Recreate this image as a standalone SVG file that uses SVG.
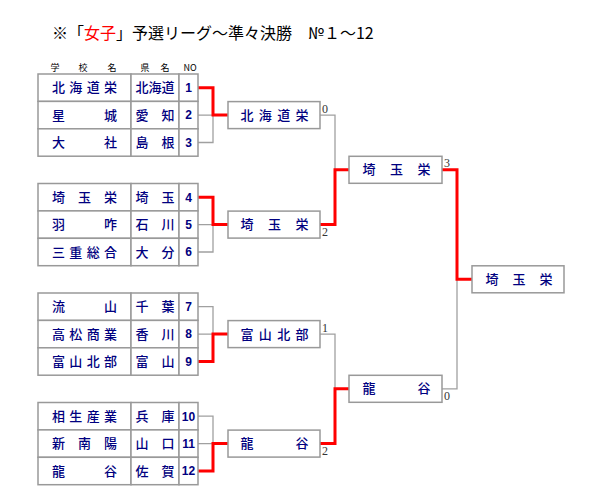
<svg xmlns="http://www.w3.org/2000/svg" width="600" height="500" viewBox="0 0 600 500">
<style>
.cell{fill:#fff;stroke:#999;stroke-width:1.5}
.box{fill:#fff;stroke:#999;stroke-width:1.5}
.t{font-family:"Noto Sans CJK JP",sans-serif;font-size:13px;font-weight:500;fill:#000080;text-anchor:middle}
.n{font-family:"Liberation Sans",sans-serif;font-size:12px;font-weight:bold;fill:#000080;text-anchor:middle}
.h{font-family:"Noto Sans CJK JP",sans-serif;font-size:9px;fill:#000;text-anchor:middle}
.s{font-family:"Liberation Serif",serif;font-size:12px;fill:#333}
.g{fill:none;stroke:#a0a0a0;stroke-width:1.3}
.r{fill:none;stroke:#ff0000;stroke-width:3}
</style>
<rect width="600" height="500" fill="#fff"/>
<text id="title" x="52" y="39" font-family="'Noto Sans CJK JP',sans-serif" font-size="16" fill="#000">※「<tspan fill="#ff0000">女子</tspan>」予選リーグ〜準々決勝　№１〜12</text>
<g id="header">
<text class="h" x="55 83 112" y="71">学校名</text>
<text class="h" x="145 165" y="71">県名</text>
<text class="h" x="190" y="71" font-family="Liberation Sans" font-size="8">NO</text>
</g>
<g id="connectors">
<path class="g" d="M198,115.1H213M198,142.5H213V115.1"/>
<path class="g" d="M198,224.6H213M198,252H213V224.6"/>
<path class="g" d="M198,306.7H213V334.1M198,334.1H213"/>
<path class="g" d="M198,416.2H213V443.6M198,443.6H213"/>
<path class="g" d="M320,115.1H335V169.8"/>
<path class="g" d="M320,334.1H335V388.8"/>
<path class="g" d="M442,388.8H457V279.3"/>
<path class="r" d="M198,87.7H213V115.1H228"/>
<path class="r" d="M198,197.2H213V224.6H228"/>
<path class="r" d="M198,361.5H213V334.1H228"/>
<path class="r" d="M198,471H213V443.6H228"/>
<path class="r" d="M320,224.6H335V169.8H349"/>
<path class="r" d="M320,443.6H335V388.8H349"/>
<path class="r" d="M442,169.8H457V279.3H472"/>
</g>
<g id="team-1"><rect class="cell" x="38" y="74" width="93" height="27.4"/><rect class="cell" x="131" y="74" width="48" height="27.4"/><rect class="cell" x="179" y="74" width="19" height="27.4"/>
<text class="t" x="58.5 75.8 93.2 110.5" y="92.2">北海道栄</text><text class="t" x="142 155 168" y="92.2">北海道</text><text class="n" x="188.5" y="92">1</text></g>
<g id="team-2"><rect class="cell" x="38" y="101.4" width="93" height="27.4"/><rect class="cell" x="131" y="101.4" width="48" height="27.4"/><rect class="cell" x="179" y="101.4" width="19" height="27.4"/>
<text class="t" x="58.5 110.5" y="119.6">星城</text><text class="t" x="142 168" y="119.6">愛知</text><text class="n" x="188.5" y="119.4">2</text></g>
<g id="team-3"><rect class="cell" x="38" y="128.8" width="93" height="27.4"/><rect class="cell" x="131" y="128.8" width="48" height="27.4"/><rect class="cell" x="179" y="128.8" width="19" height="27.4"/>
<text class="t" x="58.5 110.5" y="147">大社</text><text class="t" x="142 168" y="147">島根</text><text class="n" x="188.5" y="146.8">3</text></g>
<g id="team-4"><rect class="cell" x="38" y="183.5" width="93" height="27.4"/><rect class="cell" x="131" y="183.5" width="48" height="27.4"/><rect class="cell" x="179" y="183.5" width="19" height="27.4"/>
<text class="t" x="58.5 84.5 110.5" y="201.7">埼玉栄</text><text class="t" x="142 168" y="201.7">埼玉</text><text class="n" x="188.5" y="201.5">4</text></g>
<g id="team-5"><rect class="cell" x="38" y="210.9" width="93" height="27.4"/><rect class="cell" x="131" y="210.9" width="48" height="27.4"/><rect class="cell" x="179" y="210.9" width="19" height="27.4"/>
<text class="t" x="58.5 110.5" y="229.1">羽咋</text><text class="t" x="142 168" y="229.1">石川</text><text class="n" x="188.5" y="228.9">5</text></g>
<g id="team-6"><rect class="cell" x="38" y="238.3" width="93" height="27.4"/><rect class="cell" x="131" y="238.3" width="48" height="27.4"/><rect class="cell" x="179" y="238.3" width="19" height="27.4"/>
<text class="t" x="58.5 75.8 93.2 110.5" y="256.5">三重総合</text><text class="t" x="142 168" y="256.5">大分</text><text class="n" x="188.5" y="256.3">6</text></g>
<g id="team-7"><rect class="cell" x="38" y="293" width="93" height="27.4"/><rect class="cell" x="131" y="293" width="48" height="27.4"/><rect class="cell" x="179" y="293" width="19" height="27.4"/>
<text class="t" x="58.5 110.5" y="311.2">流山</text><text class="t" x="142 168" y="311.2">千葉</text><text class="n" x="188.5" y="311">7</text></g>
<g id="team-8"><rect class="cell" x="38" y="320.4" width="93" height="27.4"/><rect class="cell" x="131" y="320.4" width="48" height="27.4"/><rect class="cell" x="179" y="320.4" width="19" height="27.4"/>
<text class="t" x="58.5 75.8 93.2 110.5" y="338.6">高松商業</text><text class="t" x="142 168" y="338.6">香川</text><text class="n" x="188.5" y="338.4">8</text></g>
<g id="team-9"><rect class="cell" x="38" y="347.8" width="93" height="27.4"/><rect class="cell" x="131" y="347.8" width="48" height="27.4"/><rect class="cell" x="179" y="347.8" width="19" height="27.4"/>
<text class="t" x="58.5 75.8 93.2 110.5" y="366">富山北部</text><text class="t" x="142 168" y="366">富山</text><text class="n" x="188.5" y="365.8">9</text></g>
<g id="team-10"><rect class="cell" x="38" y="402.5" width="93" height="27.4"/><rect class="cell" x="131" y="402.5" width="48" height="27.4"/><rect class="cell" x="179" y="402.5" width="19" height="27.4"/>
<text class="t" x="58.5 75.8 93.2 110.5" y="420.7">相生産業</text><text class="t" x="142 168" y="420.7">兵庫</text><text class="n" x="188.5" y="420.5">10</text></g>
<g id="team-11"><rect class="cell" x="38" y="429.9" width="93" height="27.4"/><rect class="cell" x="131" y="429.9" width="48" height="27.4"/><rect class="cell" x="179" y="429.9" width="19" height="27.4"/>
<text class="t" x="58.5 84.5 110.5" y="448.1">新南陽</text><text class="t" x="142 168" y="448.1">山口</text><text class="n" x="188.5" y="447.9">11</text></g>
<g id="team-12"><rect class="cell" x="38" y="457.3" width="93" height="27.4"/><rect class="cell" x="131" y="457.3" width="48" height="27.4"/><rect class="cell" x="179" y="457.3" width="19" height="27.4"/>
<text class="t" x="58.5 110.5" y="475.5">龍谷</text><text class="t" x="142 168" y="475.5">佐賀</text><text class="n" x="188.5" y="475.3">12</text></g>
<g id="r2-1"><rect class="box" x="228" y="101.6" width="92" height="27"/><text class="t" x="247 265.3 283.7 302" y="119.6">北海道栄</text><text class="s" x="322" y="113">0</text></g>
<g id="r2-2"><rect class="box" x="228" y="211.1" width="92" height="27"/><text class="t" x="247 274.5 302" y="229.1">埼玉栄</text><text class="s" x="322" y="236">2</text></g>
<g id="r2-3"><rect class="box" x="228" y="320.6" width="92" height="27"/><text class="t" x="247 265.3 283.7 302" y="338.6">富山北部</text><text class="s" x="322" y="332">1</text></g>
<g id="r2-4"><rect class="box" x="228" y="430.1" width="92" height="27"/><text class="t" x="247 302" y="448.1">龍谷</text><text class="s" x="322" y="455">2</text></g>
<g id="sf-1"><rect class="box" x="349" y="156.3" width="93" height="27"/><text class="t" x="369 396.5 424" y="174.3">埼玉栄</text><text class="s" x="444" y="167">3</text></g>
<g id="sf-2"><rect class="box" x="349" y="375.3" width="93" height="27"/><text class="t" x="369 424" y="393.3">龍谷</text><text class="s" x="444" y="400">0</text></g>
<g id="final"><rect class="box" x="472" y="265.8" width="92" height="27"/><text class="t" x="492 519 546" y="283.8">埼玉栄</text></g>
</svg>
